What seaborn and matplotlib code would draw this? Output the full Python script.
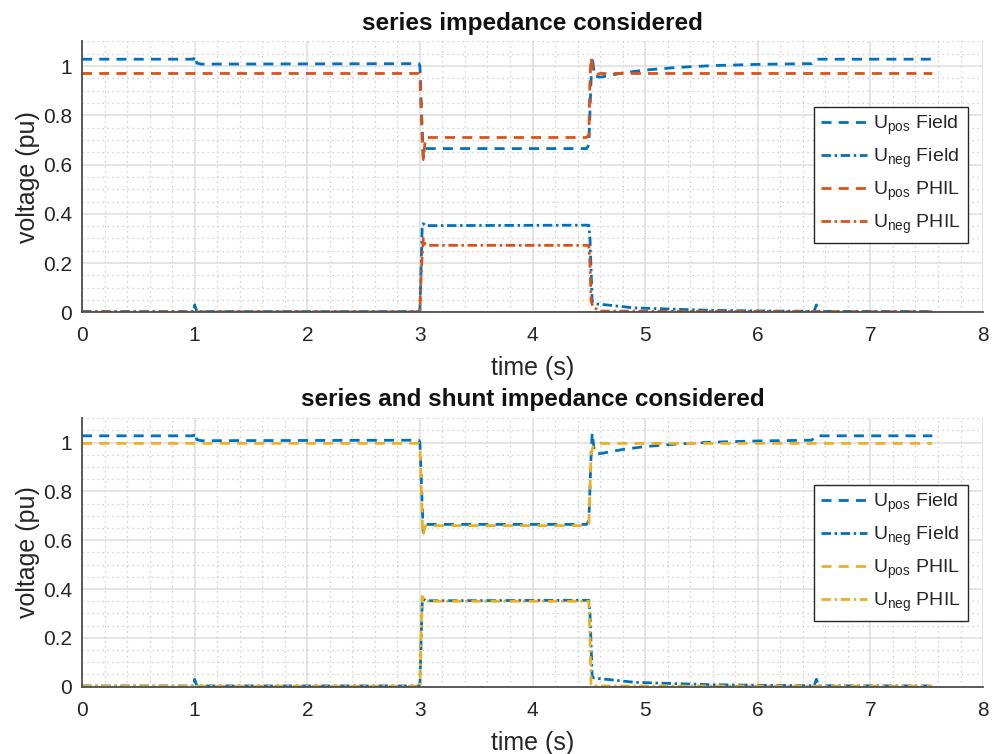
import matplotlib
matplotlib.use("Agg")
import matplotlib.pyplot as plt
import pandas as pd
import seaborn as sns
from matplotlib.ticker import MultipleLocator

# Field measurement, positive sequence voltage (pu)
t_field_pos = [0.0, 0.99, 1.0, 1.02, 1.06, 2.99, 3.0, 3.02, 3.03, 3.05, 4.48, 4.50,
               4.52, 4.53, 4.55, 4.60, 4.80, 5.00, 5.30, 5.60, 6.00, 6.48, 6.50, 6.52, 7.55]
u_field_pos = [1.028, 1.028, 1.042, 1.012, 1.008, 1.010, 1.000, 0.750, 0.630, 0.665, 0.665, 0.680,
               0.950, 1.040, 0.960, 0.955, 0.972, 0.984, 0.995, 1.002, 1.007, 1.010, 1.020, 1.028, 1.028]

# Field measurement, negative sequence voltage (pu)
t_field_neg = [0.0, 0.99, 1.0, 1.02, 2.99, 3.0, 3.02, 3.03, 3.05, 4.50, 4.51, 4.53,
               4.55, 4.70, 4.90, 5.30, 5.60, 5.95, 6.50, 6.52, 6.54, 7.55]
u_field_neg = [0.003, 0.003, 0.030, 0.003, 0.003, 0.010, 0.340, 0.360, 0.352, 0.354, 0.300, 0.040,
               0.035, 0.028, 0.018, 0.012, 0.008, 0.006, 0.004, 0.030, 0.004, 0.003]

# PHIL, series impedance only
t_phil1_pos = [0.0, 2.99, 3.0, 3.02, 3.03, 3.05, 4.48, 4.50, 4.51, 4.52, 4.54, 4.57, 4.60, 7.55]
u_phil1_pos = [0.970, 0.970, 0.960, 0.700, 0.620, 0.710, 0.710, 0.720, 0.950, 1.035, 0.980, 0.965, 0.970, 0.970]
t_phil1_neg = [0.0, 3.0, 3.01, 3.03, 3.05, 3.07, 4.50, 4.51, 4.52, 4.54, 4.60, 7.55]
u_phil1_neg = [0.002, 0.002, 0.150, 0.300, 0.275, 0.272, 0.272, 0.200, 0.045, 0.020, 0.005, 0.002]

# PHIL, series and shunt impedance
t_phil2_pos = [0.0, 2.99, 3.0, 3.02, 3.025, 3.05, 4.48, 4.50, 4.52, 4.54, 4.60, 7.55]
u_phil2_pos = [0.997, 0.997, 0.990, 0.700, 0.620, 0.660, 0.660, 0.670, 0.950, 0.990, 0.997, 0.997]
t_phil2_neg = [0.0, 3.0, 3.01, 3.02, 3.04, 3.07, 4.50, 4.51, 4.52, 4.55, 7.55]
u_phil2_neg = [0.002, 0.002, 0.200, 0.370, 0.355, 0.350, 0.350, 0.200, 0.010, 0.003, 0.002]

titles = ["series impedance considered", "series and shunt impedance considered"]
lbl_pos_field = r"$\mathregular{U_{pos}}$ Field"
lbl_neg_field = r"$\mathregular{U_{neg}}$ Field"
lbl_pos_phil = r"$\mathregular{U_{pos}}$ PHIL"
lbl_neg_phil = r"$\mathregular{U_{neg}}$ PHIL"

BLUE = "#0072BD"
ORANGE = "#D95319"
YELLOW = "#EDB120"

sns.set_theme(style="white")
plt.rcParams["font.family"] = ["Liberation Sans", "DejaVu Sans"]
plt.rcParams["mathtext.fontset"] = "custom"
plt.rcParams["mathtext.rm"] = "Liberation Sans"


def frame(t, u, name):
    return pd.DataFrame({"t": t, "u": u, "series": name})


def panel(ax, phil_pos, phil_neg, phil_color, title, legend_y):
    df = pd.concat([
        frame(t_field_pos, u_field_pos, lbl_pos_field),
        frame(t_field_neg, u_field_neg, lbl_neg_field),
        frame(*phil_pos, lbl_pos_phil),
        frame(*phil_neg, lbl_neg_phil),
    ], ignore_index=True)
    order = [lbl_pos_field, lbl_neg_field, lbl_pos_phil, lbl_neg_phil]
    palette = {lbl_pos_field: BLUE, lbl_neg_field: BLUE,
               lbl_pos_phil: phil_color, lbl_neg_phil: phil_color}
    dash = (3.6, 2.6)
    dashdot = (3.4, 1.3, 0.9, 1.3)
    dashes = {lbl_pos_field: dash, lbl_neg_field: dashdot,
              lbl_pos_phil: dash, lbl_neg_phil: dashdot}
    sns.lineplot(data=df, x="t", y="u", hue="series", style="series",
                 hue_order=order, style_order=order, palette=palette,
                 dashes=dashes, estimator=None, sort=False, lw=2.0, ax=ax)

    ax.set_xlim(0, 8)
    ax.set_ylim(0, 1.1)
    ax.xaxis.set_major_locator(MultipleLocator(1))
    ax.xaxis.set_minor_locator(MultipleLocator(0.2))
    ax.yaxis.set_major_locator(MultipleLocator(0.2))
    ax.yaxis.set_minor_locator(MultipleLocator(0.05))
    ax.set_yticks([0, 0.2, 0.4, 0.6, 0.8, 1.0])
    ax.set_yticklabels(["0", "0.2", "0.4", "0.6", "0.8", "1"])
    ax.set_axisbelow(True)
    ax.grid(which="major", color="#dedede", lw=1.1, ls="-")
    ax.grid(which="minor", color="#c4c4c4", lw=0.9, ls=(0, (1, 3)))
    for side in ("top", "right"):
        ax.spines[side].set_visible(False)
    for side in ("left", "bottom"):
        ax.spines[side].set_color("#4d4d4d")
        ax.spines[side].set_linewidth(1.3)
    ax.tick_params(which="major", direction="in", length=5, width=1.2,
                   colors="#262626", labelsize=15)
    ax.tick_params(axis="x", which="major", pad=10)
    ax.tick_params(axis="y", which="major", pad=7)
    ax.tick_params(which="minor", length=0)
    ax.set_xlabel("time (s)", fontsize=18, color="#262626", labelpad=8)
    ax.set_ylabel("voltage (pu)", fontsize=18, color="#262626", labelpad=2)
    ax.set_title(title, fontsize=17.5, fontweight="bold", color="#111111", pad=8.5)

    handles, labels = ax.get_legend_handles_labels()
    leg = ax.legend(handles, labels, loc="upper right", bbox_to_anchor=(0.983, legend_y),
                    borderaxespad=0, fontsize=14, handlelength=2.4, handletextpad=0.3,
                    labelspacing=0.5, borderpad=0.35, fancybox=False, framealpha=1,
                    edgecolor="#262626")
    leg.get_frame().set_linewidth(1.0)


fig = plt.figure(figsize=(9.98, 7.54), dpi=100)
ax1 = fig.add_axes([0.0822, 0.5858, 0.9028, 0.3592])
ax2 = fig.add_axes([0.0822, 0.0893, 0.9028, 0.3560])

panel(ax1, (t_phil1_pos, u_phil1_pos), (t_phil1_neg, u_phil1_neg), ORANGE, titles[0], 0.758)
panel(ax2, (t_phil2_pos, u_phil2_pos), (t_phil2_neg, u_phil2_neg), YELLOW, titles[1], 0.751)

fig.savefig("out.png", dpi=100)
